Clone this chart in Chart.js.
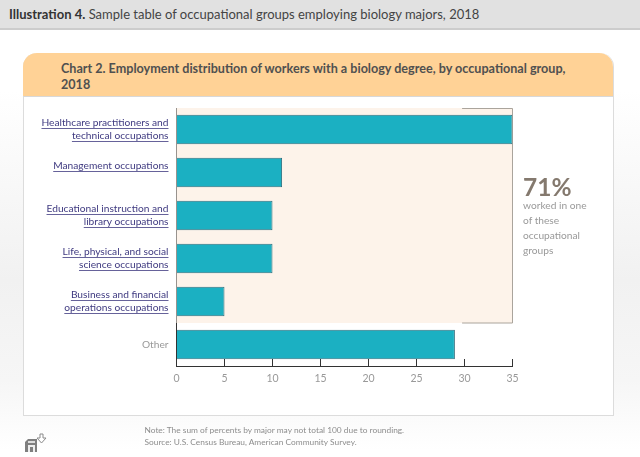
<!DOCTYPE html>
<html>
<head>
<meta charset="utf-8">
<script src="https://cdn.jsdelivr.net/npm/chart.js@4"></script>
<style>
  html, body { margin: 0; padding: 0; }
  body {
    width: 640px; height: 457px; position: relative; overflow: hidden;
    font-family: Lato, "Open Sans", sans-serif;
    background: linear-gradient(#fff 90px, #f1f1f1 280px, #f6f6f6 380px, #fff 450px);
  }
  .top {
    position: absolute; left: 0; top: 0; width: 640px; height: 28px;
    background: #e1e1e1; border-bottom: 2px solid #cccccc;
    font-size: 13px; line-height: 28px; color: #444; text-indent: 9px;
  }
  .top b { color: #333; }
  .card {
    position: absolute; left: 23px; top: 53px; width: 589px; height: 362px;
    background: #fff; border: 1px solid #dcdcdc; border-top: 0; border-radius: 14px 14px 0 0;
  }
  .head {
    position: absolute; left: 23px; top: 53px; width: 590px; height: 43px;
    background: #ffd296; border-bottom: 1px solid #d8d8d8; border-radius: 14px 14px 0 0;
  }
  .head div {
    position: absolute; left: 38px; top: 8px; width: 520px;
    font-size: 12.6px; font-weight: bold; line-height: 16px; color: #505050;
  }
  canvas { position: absolute; left: 0; top: 0; }
  .big {
    position: absolute; left: 523px; top: 171px;
    font-size: 24.5px; line-height: 32px; font-weight: bold; color: #84796e;
  }
  .side {
    position: absolute; left: 523px; top: 198px;
    font-size: 10.2px; line-height: 15px; color: #999;
  }
  .note {
    position: absolute; left: 144.5px; top: 424px;
    font-size: 8.35px; line-height: 12px; color: #8d8d8d;
  }
  svg { position: absolute; left: 24px; top: 433px; }
</style>
</head>
<body>
<div class="top"><b>Illustration 4.</b> Sample table of occupational groups employing biology majors, 2018</div>
<div class="card"></div>
<div class="head"><div>Chart 2. Employment distribution of workers with a biology degree, by occupational group, 2018</div></div>
<canvas id="chart" width="640" height="457"></canvas>
<div class="big">71%</div>
<div class="side">worked in one<br>of these<br>occupational<br>groups</div>
<div class="note">Note: The sum of percents by major may not total 100 due to rounding.<br>Source: U.S. Census Bureau, American Community Survey.</div>
<svg width="23" height="20" viewBox="0 0 23 20">
  <path d="M1 9 L4 6 H13 V19 H1 Z" fill="#7f7f7f"/>
  <rect x="4" y="8" width="7" height="2" fill="#ddd"/>
  <rect x="4" y="12" width="7" height="7" fill="#eee"/>
  <rect x="6" y="14" width="3" height="5" fill="#7f7f7f"/>
  <path d="M16 1 H19 V5 H22 L17.500 10 L13 5 H16 Z" fill="#fff" stroke="#8a8a8a" stroke-width="1"/>
</svg>
<script>
const categories = [
  ["Healthcare practitioners and", "technical occupations"],
  ["Management occupations", ""], // blank line: this label sits high in the original
  ["Educational instruction and", "library occupations"],
  ["Life, physical, and social", "science occupations"],
  ["Business and financial", "operations occupations"],
  "Other",
];
const shares = [35, 11, 10, 10, 5, 29];
const xTicks = [0, 5, 10, 15, 20, 25, 30, 35];
const highlighted = 5; // first five groups sit on the shaded panel

const linkColor = "#3f3a80";
const labelFont = "10.2px Lato";
const labelLine = 13.4;

// shaded panel behind the five main groups
const panel = {
  id: "panel",
  beforeDatasetsDraw(chart) {
    const { ctx, chartArea, scales } = chart;
    const x0 = scales.x.getPixelForValue(0);
    const x1 = scales.x.getPixelForValue(35);
    const bottom = (scales.y.getPixelForValue(highlighted - 1) + scales.y.getPixelForValue(highlighted)) / 2;
    ctx.save();
    ctx.fillStyle = "#fdf3ea";
    ctx.fillRect(x0, chartArea.top, x1 - x0, bottom - chartArea.top);
    ctx.strokeStyle = "#aaa49c";
    ctx.lineWidth = 1;
    ctx.beginPath();
    ctx.moveTo(x0 + (x1 - x0) * 0.85, chartArea.top + 0.5);
    ctx.lineTo(x1, chartArea.top + 0.5);
    ctx.lineTo(x1, bottom);
    ctx.lineTo(x0 + (x1 - x0) * 0.85, bottom);
    ctx.stroke();
    ctx.restore();
  },
};

// Chart.js has no underlined tick labels, so add the link underline by hand
const underline = {
  id: "underline",
  afterDraw(chart) {
    const { ctx, scales } = chart;
    ctx.save();
    ctx.font = labelFont;
    ctx.strokeStyle = linkColor;
    ctx.lineWidth = 0.8;
    categories.slice(0, highlighted).forEach((lines, i) => {
      const mid = scales.y.getPixelForValue(i);
      lines.forEach((line, j) => {
        if (!line) return;
        const w = ctx.measureText(line).width;
        const right = scales.y.right - 8;
        const y = Math.round(mid + (j - (lines.length - 1) / 2) * labelLine + 5) + 0.5;
        ctx.beginPath();
        ctx.moveTo(right - w, y);
        ctx.lineTo(right, y);
        ctx.stroke();
      });
    });
    ctx.restore();
  },
};

new Chart(document.getElementById("chart"), {
  type: "bar",
  data: {
    labels: categories,
    datasets: [{
      data: shares,
      backgroundColor: "#1bb0c2",
      borderColor: "#2f6f7e",
      borderWidth: 1,
      barPercentage: 0.69,
      categoryPercentage: 1,
    }],
  },
  options: {
    indexAxis: "y",
    responsive: false,
    animation: false,
    layout: { padding: { top: 108, right: 127.5, left: 0, bottom: 0 } },
    plugins: { legend: { display: false }, tooltip: { enabled: false } },
    scales: {
      x: {
        min: 0,
        max: 35,
        afterFit(scale) { scale.height = 91; },
        afterBuildTicks(scale) { scale.ticks = xTicks.map((value) => ({ value })); },
        border: { color: "#333", width: 1 },
        grid: { drawOnChartArea: false, tickLength: -7, color: "#333", tickColor: "#333" },
        ticks: { color: "#999", font: { family: "Lato", size: 10.5 }, padding: 13, maxRotation: 0 },
      },
      y: {
        afterFit(scale) { scale.width = 176.5; },
        border: { color: "#333", width: 1 },
        grid: { display: false, drawTicks: false },
        ticks: {
          padding: 8,
          color: (c) => (c.index < highlighted ? linkColor : "#999"),
          font: { family: "Lato", size: 10.2, lineHeight: labelLine / 10.2 },
        },
      },
    },
  },
  plugins: [panel, underline],
});
</script>
</body>
</html>
